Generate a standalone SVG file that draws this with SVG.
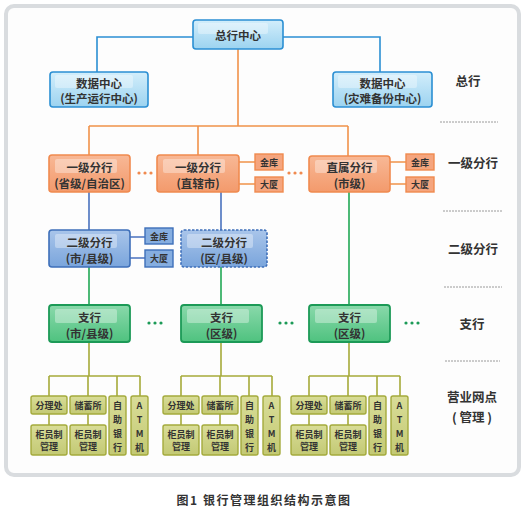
<svg xmlns="http://www.w3.org/2000/svg" width="527" height="509" viewBox="0 0 527 509">
<defs>
<linearGradient id="gB" x1="0" y1="0" x2="0" y2="1"><stop offset="0" stop-color="#d3eefb"/><stop offset="1" stop-color="#9cd3f0"/></linearGradient>
<linearGradient id="gO" x1="0" y1="0" x2="0" y2="1"><stop offset="0" stop-color="#f8b896"/><stop offset="1" stop-color="#f39a6c"/></linearGradient>
<linearGradient id="gE" x1="0" y1="0" x2="0" y2="1"><stop offset="0" stop-color="#a9c5ea"/><stop offset="1" stop-color="#7aa5dc"/></linearGradient>
<linearGradient id="gG" x1="0" y1="0" x2="0" y2="1"><stop offset="0" stop-color="#8ad9ab"/><stop offset="1" stop-color="#4fc27f"/></linearGradient>
<linearGradient id="gL" x1="0" y1="0" x2="0" y2="1"><stop offset="0" stop-color="#d9dd98"/><stop offset="1" stop-color="#c3c974"/></linearGradient>
</defs>
<style>
text{font-family:"Noto Sans CJK SC","Liberation Sans",sans-serif;font-weight:bold;fill:#333;text-anchor:middle;dominant-baseline:central}
.t{font-size:11.5px}
.s{font-size:9px}
.lab{font-size:12.5px}
.cap{font-size:12px;letter-spacing:1.5px}
.b{fill:url(#gB);stroke:#2b8fd3;stroke-width:1.6}
.o{fill:url(#gO);stroke:#f08a4f;stroke-width:1.6}
.os{fill:#f5a57e;stroke:#f08a4f;stroke-width:1.4}
.e{fill:url(#gE);stroke:#3e6fb9;stroke-width:1.6}
.ed{fill:url(#gE);stroke:#3e6fb9;stroke-width:1.6;stroke-dasharray:2.5,1.5}
.es{fill:#86aee0;stroke:#3e6fb9;stroke-width:1.4}
.g{fill:url(#gG);stroke:#1c9a57;stroke-width:1.8}
.l{fill:url(#gL);stroke:#a4aa3c;stroke-width:1.4}
.hl{fill:#ffffff;opacity:0.35}
.cB{stroke:#2b8fd3;stroke-width:1.6;fill:none}
.cO{stroke:#f0924a;stroke-width:1.6;fill:none}
.cE{stroke:#4a72be;stroke-width:1.6;fill:none}
.cG{stroke:#22a855;stroke-width:1.6;fill:none}
.cL{stroke:#a6aa3a;stroke-width:1.6;fill:none}
.dash{stroke:#9a9a9a;stroke-width:1;stroke-dasharray:2,1}
.dO{fill:#f08a4f}
.dG{fill:#1c9a57}
</style>
<rect x="0" y="0" width="527" height="509" fill="#ffffff"/>
<rect x="6" y="6" width="513" height="469" rx="8" fill="#fdfdfd" stroke="#d9dcdf" stroke-width="4"/>

<g id="connectors">
<path class="cB" d="M193,37 H97 V72 M283,37 H380 V72"/>
<path class="cO" d="M238,49 V126 M89,126 H348 M89,126 V155 M198,126 V155 M348,126 V156"/>
<path class="cO" d="M239,162 H255 M239,184 H255 M390,162 H406 M390,184 H406"/>
<path class="cE" d="M89,192 V230 M221,192 V230 M130,237 H145 M130,258 H145"/>
<path class="cG" d="M89,267 V305 M221,267 V305 M349,192 V305"/>
<path class="cL" d="M89,342 V376 M49,376 H140 M49,376 V396 M88,376 V396 M117,376 V396 M140,376 V396 M49,414 V425 M88,414 V425"/>
<path class="cL" d="M221,342 V376 M181,376 H272 M181,376 V396 M220,376 V396 M249,376 V396 M272,376 V396 M181,414 V425 M220,414 V425"/>
<path class="cL" d="M349,342 V376 M309,376 H400 M309,376 V396 M348,376 V396 M377,376 V396 M400,376 V396 M309,414 V425 M348,414 V425"/>
</g>

<g id="zonghang"><rect class="b" x="193" y="20" width="90" height="29" rx="3"/><rect class="hl" x="198" y="23" width="70" height="11" rx="2"/><text class="t" x="238" y="35">总行中心</text></g>
<g id="dc1"><rect class="b" x="50" y="72" width="98" height="35" rx="3"/><rect class="hl" x="55" y="75" width="78" height="13" rx="2"/><text class="t" x="99" y="83">数据中心</text><text class="t" x="99" y="98">(生产运行中心)</text></g>
<g id="dc2"><rect class="b" x="333" y="72" width="99" height="35" rx="3"/><rect class="hl" x="338" y="75" width="79" height="13" rx="2"/><text class="t" x="382.5" y="83">数据中心</text><text class="t" x="382.5" y="98">(灾难备份中心)</text></g>

<g id="yj1"><rect class="o" x="49" y="155" width="81" height="37" rx="3"/><rect class="hl" x="55" y="159" width="62" height="14" rx="2"/><text class="t" x="89.5" y="167">一级分行</text><text class="t" x="89.5" y="183">(省级/自治区)</text></g>
<g id="yj2"><rect class="o" x="157" y="155" width="82" height="37" rx="3"/><rect class="hl" x="163" y="159" width="62" height="14" rx="2"/><text class="t" x="198" y="167">一级分行</text><text class="t" x="198" y="183">(直辖市)</text></g>
<g id="zs"><rect class="o" x="309" y="156" width="81" height="36" rx="3"/><rect class="hl" x="315" y="160" width="62" height="13" rx="2"/><text class="t" x="349.5" y="167">直属分行</text><text class="t" x="349.5" y="183">(市级)</text></g>
<g id="jk1"><rect class="os" x="255" y="154" width="28" height="16"/><text class="s" x="269" y="162">金库</text></g>
<g id="ds1"><rect class="os" x="255" y="177" width="28" height="15"/><text class="s" x="269" y="184.5">大厦</text></g>
<g id="jk2"><rect class="os" x="406" y="154" width="28" height="16"/><text class="s" x="420" y="162">金库</text></g>
<g id="ds2"><rect class="os" x="406" y="177" width="28" height="15"/><text class="s" x="420" y="184.5">大厦</text></g>
<g id="dotsO"><circle class="dO" cx="139" cy="173" r="1.6"/><circle class="dO" cx="145" cy="173" r="1.6"/><circle class="dO" cx="151" cy="173" r="1.6"/><circle class="dO" cx="289" cy="173" r="1.6"/><circle class="dO" cx="295" cy="173" r="1.6"/><circle class="dO" cx="301" cy="173" r="1.6"/></g>

<g id="ej1"><rect class="e" x="49" y="230" width="81" height="37" rx="3"/><rect class="hl" x="55" y="234" width="62" height="14" rx="2"/><text class="t" x="89.5" y="242">二级分行</text><text class="t" x="89.5" y="258">(市/县级)</text></g>
<g id="ej2"><rect class="ed" x="181" y="230" width="86" height="37" rx="3"/><rect class="hl" x="187" y="234" width="66" height="14" rx="2"/><text class="t" x="224" y="242">二级分行</text><text class="t" x="224" y="258">(区/县级)</text></g>
<g id="jk3"><rect class="es" x="145" y="228" width="28" height="16"/><text class="s" x="159" y="236">金库</text></g>
<g id="ds3"><rect class="es" x="145" y="250" width="28" height="17"/><text class="s" x="159" y="258.5">大厦</text></g>

<g id="zh1"><rect class="g" x="49" y="305" width="81" height="37" rx="3"/><rect class="hl" x="55" y="309" width="62" height="14" rx="2"/><text class="t" x="89.5" y="317">支行</text><text class="t" x="89.5" y="333">(市/县级)</text></g>
<g id="zh2"><rect class="g" x="181" y="305" width="81" height="37" rx="3"/><rect class="hl" x="187" y="309" width="62" height="14" rx="2"/><text class="t" x="221.5" y="317">支行</text><text class="t" x="221.5" y="333">(区级)</text></g>
<g id="zh3"><rect class="g" x="309" y="305" width="81" height="37" rx="3"/><rect class="hl" x="315" y="309" width="62" height="14" rx="2"/><text class="t" x="349.5" y="317">支行</text><text class="t" x="349.5" y="333">(区级)</text></g>
<g id="dotsG"><circle class="dG" cx="149" cy="323" r="1.6"/><circle class="dG" cx="155" cy="323" r="1.6"/><circle class="dG" cx="161" cy="323" r="1.6"/><circle class="dG" cx="280" cy="323" r="1.6"/><circle class="dG" cx="286" cy="323" r="1.6"/><circle class="dG" cx="292" cy="323" r="1.6"/><circle class="dG" cx="406" cy="323" r="1.6"/><circle class="dG" cx="412" cy="323" r="1.6"/><circle class="dG" cx="418" cy="323" r="1.6"/></g>

<g id="wd1">
<g id="fl1"><rect class="l" x="31" y="396" width="36" height="18" rx="2"/><text class="s" x="49" y="405">分理处</text></g>
<g id="cx1"><rect class="l" x="70" y="396" width="36" height="18" rx="2"/><text class="s" x="88" y="405">储蓄所</text></g>
<g id="zz1"><rect class="l" x="109" y="396" width="17" height="59" rx="2"/><text class="s" x="117.5" y="405">自</text><text class="s" x="117.5" y="419">助</text><text class="s" x="117.5" y="433">银</text><text class="s" x="117.5" y="447">行</text></g>
<g id="atm1"><rect class="l" x="131" y="396" width="17" height="59" rx="2"/><text class="s" x="139.5" y="405">A</text><text class="s" x="139.5" y="419">T</text><text class="s" x="139.5" y="433">M</text><text class="s" x="139.5" y="447">机</text></g>
<g id="gy1a"><rect class="l" x="31" y="425" width="36" height="30" rx="2"/><text class="s" x="49" y="434">柜员制</text><text class="s" x="49" y="446">管理</text></g>
<g id="gy1b"><rect class="l" x="70" y="425" width="36" height="30" rx="2"/><text class="s" x="88" y="434">柜员制</text><text class="s" x="88" y="446">管理</text></g>
</g>
<g id="wd2">
<g id="fl2"><rect class="l" x="163" y="396" width="36" height="18" rx="2"/><text class="s" x="181" y="405">分理处</text></g>
<g id="cx2"><rect class="l" x="202" y="396" width="36" height="18" rx="2"/><text class="s" x="220" y="405">储蓄所</text></g>
<g id="zz2"><rect class="l" x="241" y="396" width="17" height="59" rx="2"/><text class="s" x="249.5" y="405">自</text><text class="s" x="249.5" y="419">助</text><text class="s" x="249.5" y="433">银</text><text class="s" x="249.5" y="447">行</text></g>
<g id="atm2"><rect class="l" x="263" y="396" width="17" height="59" rx="2"/><text class="s" x="271.5" y="405">A</text><text class="s" x="271.5" y="419">T</text><text class="s" x="271.5" y="433">M</text><text class="s" x="271.5" y="447">机</text></g>
<g id="gy2a"><rect class="l" x="163" y="425" width="36" height="30" rx="2"/><text class="s" x="181" y="434">柜员制</text><text class="s" x="181" y="446">管理</text></g>
<g id="gy2b"><rect class="l" x="202" y="425" width="36" height="30" rx="2"/><text class="s" x="220" y="434">柜员制</text><text class="s" x="220" y="446">管理</text></g>
</g>
<g id="wd3">
<g id="fl3"><rect class="l" x="291" y="396" width="36" height="18" rx="2"/><text class="s" x="309" y="405">分理处</text></g>
<g id="cx3"><rect class="l" x="330" y="396" width="36" height="18" rx="2"/><text class="s" x="348" y="405">储蓄所</text></g>
<g id="zz3"><rect class="l" x="369" y="396" width="17" height="59" rx="2"/><text class="s" x="377.5" y="405">自</text><text class="s" x="377.5" y="419">助</text><text class="s" x="377.5" y="433">银</text><text class="s" x="377.5" y="447">行</text></g>
<g id="atm3"><rect class="l" x="391" y="396" width="17" height="59" rx="2"/><text class="s" x="399.5" y="405">A</text><text class="s" x="399.5" y="419">T</text><text class="s" x="399.5" y="433">M</text><text class="s" x="399.5" y="447">机</text></g>
<g id="gy3a"><rect class="l" x="291" y="425" width="36" height="30" rx="2"/><text class="s" x="309" y="434">柜员制</text><text class="s" x="309" y="446">管理</text></g>
<g id="gy3b"><rect class="l" x="330" y="425" width="36" height="30" rx="2"/><text class="s" x="348" y="434">柜员制</text><text class="s" x="348" y="446">管理</text></g>
</g>

<g id="levels">
<text class="lab" x="468" y="80">总行</text>
<line class="dash" x1="440" y1="122" x2="498" y2="122"/>
<text class="lab" x="473" y="162">一级分行</text>
<line class="dash" x1="443" y1="211" x2="503" y2="211"/>
<text class="lab" x="473" y="248">二级分行</text>
<line class="dash" x1="444" y1="287" x2="502" y2="287"/>
<text class="lab" x="472" y="323">支行</text>
<line class="dash" x1="445" y1="361" x2="500" y2="361"/>
<text class="lab" x="472" y="396">营业网点</text>
<text class="lab" x="472" y="416">( 管理 )</text>
</g>
<text class="cap" x="264" y="499">图1 银行管理组织结构示意图</text>
</svg>
